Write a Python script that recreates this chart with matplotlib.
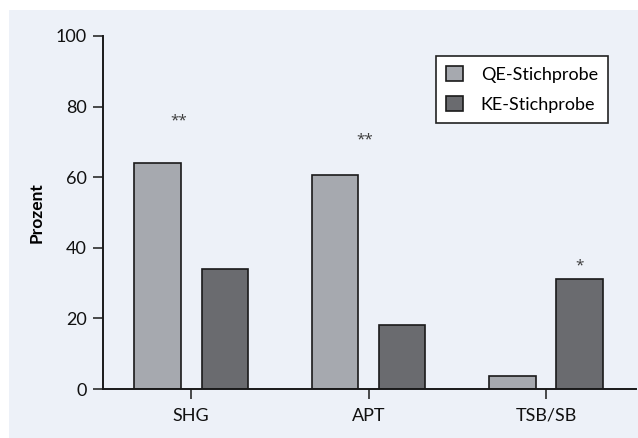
import matplotlib.pyplot as plt
import matplotlib.patches as mpatches
import numpy as np

plt.rcParams['font.family'] = ['Lato', 'DejaVu Sans']

kategorien = ['SHG', 'APT', 'TSB/SB']
qe_werte = [64.0, 60.7, 3.6]
ke_werte = [34.0, 18.2, 31.2]
serien = ['QE-Stichprobe', 'KE-Stichprobe']
sterne = ['**', '**', '*']
stern_x = [-0.07, -0.02, 0.19]   # Versatz relativ zur Kategorie
stern_y = [76.0, 70.6, 34.8]

farbe_qe = '#a6a9af'
farbe_ke = '#6a6b6f'
hg = '#edf1f8'

fig = plt.figure(figsize=(6.38, 4.38), dpi=100)
fig.patch.set_facecolor('white')
# hellblauer Hintergrundkasten
fig.patches.append(mpatches.Rectangle((9 / 638, 0), 1 - 9 / 638, 1 - 10 / 438,
                                      transform=fig.transFigure, facecolor=hg,
                                      edgecolor='none', zorder=-10))

ax = fig.add_axes([103 / 638, 49 / 438, 533 / 638, 353 / 438])
ax.set_facecolor('none')

x = np.arange(len(kategorien))
off = 0.19
breite = 0.262
ax.bar(x - off, qe_werte, breite, color=farbe_qe, edgecolor='#1a1a1a', linewidth=1.2, label=serien[0])
ax.bar(x + off, ke_werte, breite, color=farbe_ke, edgecolor='#1a1a1a', linewidth=1.2, label=serien[1])

for i in range(len(kategorien)):
    ax.text(x[i] + stern_x[i], stern_y[i], sterne[i], family=['Open Sans', 'DejaVu Sans'],
            ha='center', va='center', fontsize=11, color='#3a3a3a')

ax.set_xlim(-0.496, 2.507)
ax.set_ylim(0, 100)
ax.set_yticks(np.arange(0, 101, 20))
ax.set_xticks(x)
ax.set_xticklabels(kategorien)
ax.tick_params(axis='both', direction='out', length=7.5, width=1.1, color='#1a1a1a',
               labelsize=13, labelcolor='#111111')
ax.tick_params(axis='y', pad=4)
ax.tick_params(axis='x', pad=6)
for s in ['top', 'right']:
    ax.spines[s].set_visible(False)
for s in ['left', 'bottom']:
    ax.spines[s].set_linewidth(1.4)
    ax.spines[s].set_color('#1a1a1a')

ax.set_ylabel('Prozent', fontsize=12.5, fontweight='bold', labelpad=8)

leg = ax.legend(loc='upper right', bbox_to_anchor=(0.947, 0.943), fontsize=13,
                fancybox=False, framealpha=1, edgecolor='#222222',
                handlelength=0.9, handleheight=0.9, handletextpad=1.0,
                labelspacing=0.75, borderpad=0.55, borderaxespad=0)
leg.get_frame().set_linewidth(1.2)

plt.savefig('out.png', dpi=100, facecolor=fig.get_facecolor())
